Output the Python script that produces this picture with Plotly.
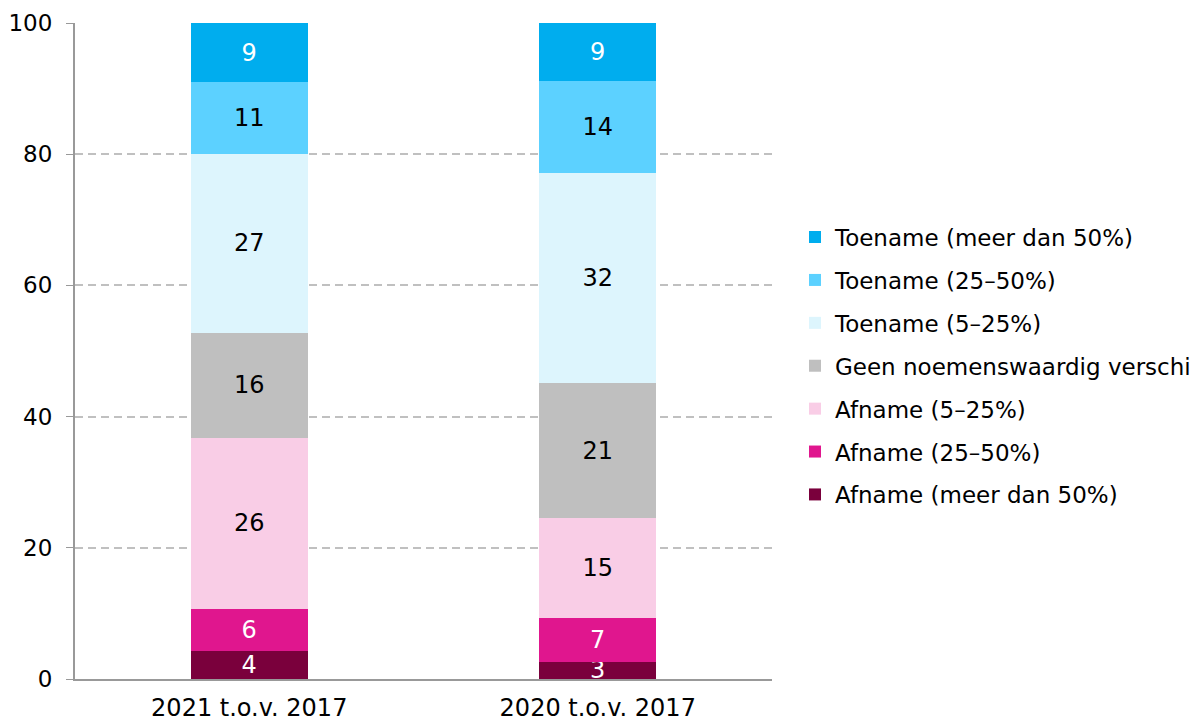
import plotly.graph_objects as go

categories = ["2021 t.o.v. 2017", "2020 t.o.v. 2017"]
series_names = [
    "Afname (meer dan 50%)",
    "Afname (25\u201350%)",
    "Afname (5\u201325%)",
    "Geen noemenswaardig verschil",
    "Toename (5\u201325%)",
    "Toename (25\u201350%)",
    "Toename (meer dan 50%)",
]
afname_50 = [4.3, 2.6]
afname_25_50 = [6.4, 6.7]
afname_5_25 = [26.1, 15.2]
geen = [15.9, 20.6]
toename_5_25 = [27.4, 32.0]
toename_25_50 = [10.9, 14.1]
toename_50 = [9.0, 8.8]

series_values = [afname_50, afname_25_50, afname_5_25, geen, toename_5_25, toename_25_50, toename_50]
colors = ["#7A003C", "#E0168E", "#F9CDE6", "#BFBFBF", "#DDF5FD", "#5CD1FF", "#00ADEE"]
text_colors = ["white", "white", "black", "black", "black", "black", "white"]

FONT = "DejaVu Sans"

fig = go.Figure()
n = len(series_names)
for i, (name, vals, c, tc) in enumerate(zip(series_names, series_values, colors, text_colors)):
    fig.add_trace(go.Bar(
        name=name,
        x=categories,
        y=vals,
        marker=dict(color=c, line=dict(width=0)),
        texttemplate="%{y:.0f}",
        textposition="inside",
        insidetextanchor="middle",
        constraintext="none",
        textangle=0,
        textfont=dict(color=tc, size=24, family=FONT),
        legendgroup=name,
        legendrank=100 + (n - i),
        hoverinfo="skip",
    ))

fig.update_layout(
    barmode="stack",
    bargap=0.664,
    width=1199,
    height=720,
    margin=dict(l=67, r=435, t=15, b=49, autoexpand=False),
    plot_bgcolor="white",
    paper_bgcolor="white",
    font=dict(family=FONT, size=23, color="black"),
    legend=dict(
        x=1.033, xanchor="left", y=0.477, yanchor="middle",
        traceorder="grouped",
        tracegroupgap=10,
        font=dict(size=23, family=FONT),
        itemwidth=30,
        bgcolor="rgba(0,0,0,0)",
    ),
    xaxis=dict(
        showline=True, linecolor="#999999", linewidth=2,
        ticks="", showgrid=False,
        ticklabelstandoff=6,
        tickfont=dict(size=24, family=FONT),
    ),
    yaxis=dict(
        range=[0, 100],
        tickvals=[0, 20, 40, 60, 80, 100],
        showline=True, linecolor="#999999", linewidth=2,
        ticks="outside", ticklen=7, tickcolor="#999999",
        showgrid=True, gridcolor="#C0C0C0", griddash="8px,5px", gridwidth=1.5,
        zeroline=False,
        ticklabelstandoff=9,
        tickfont=dict(size=23, family=FONT),
    ),
)

fig.write_html("out.html")
